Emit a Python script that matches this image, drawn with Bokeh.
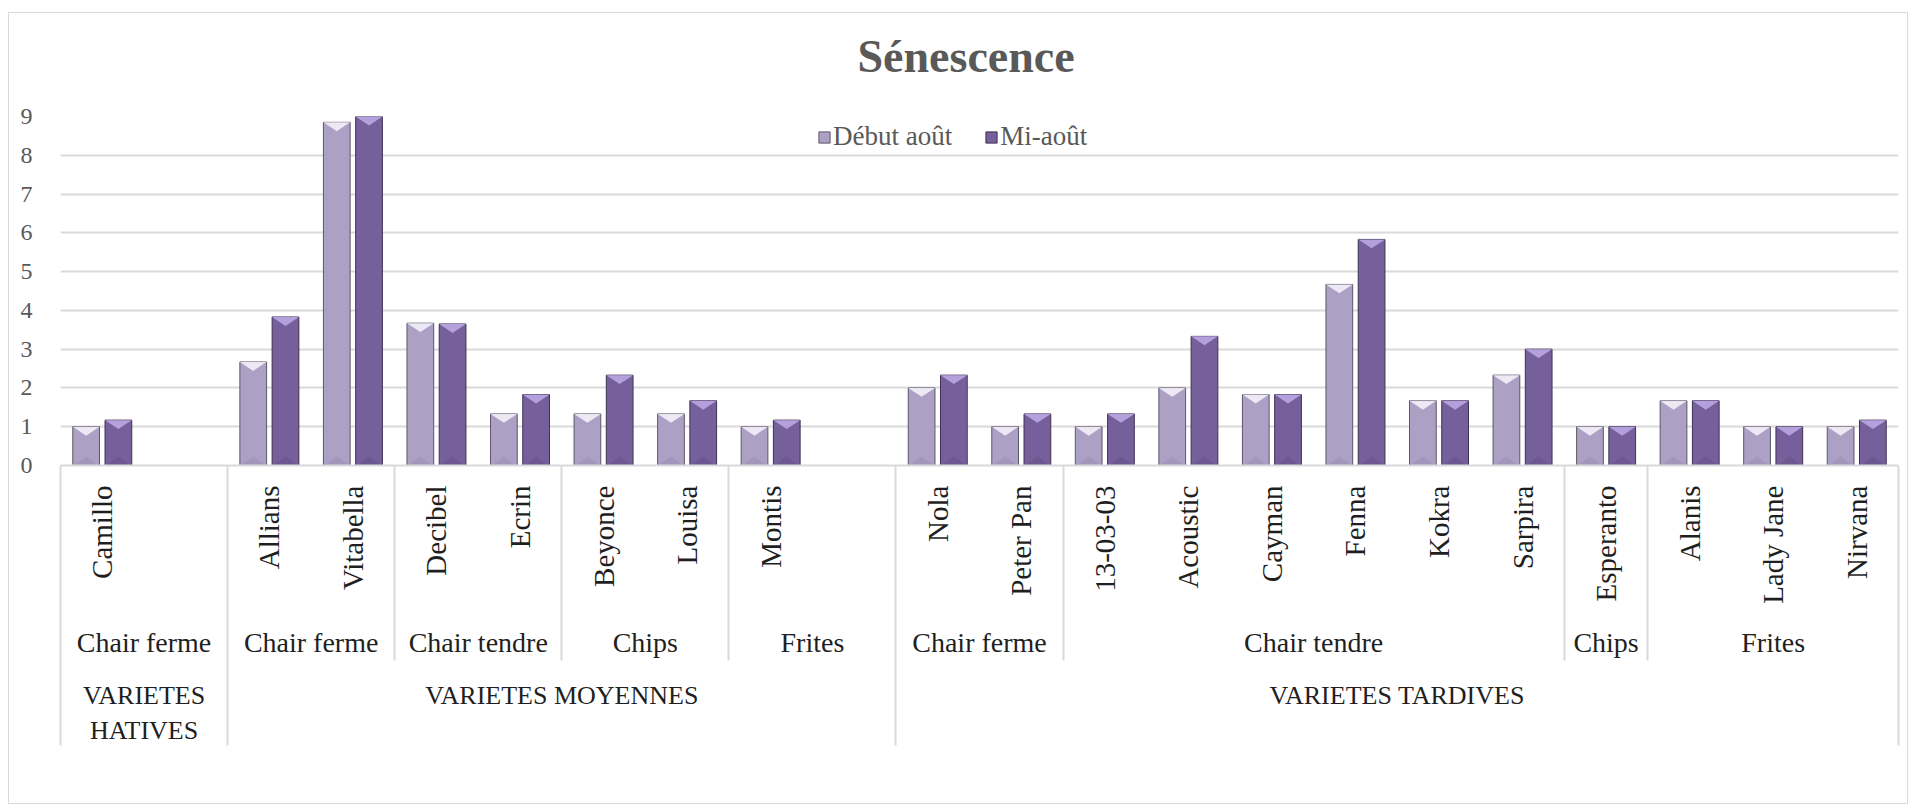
import math
from bokeh.plotting import figure
from bokeh.models import (FactorRange, FixedTicker, Legend, LegendItem,
                          ColumnDataSource, Title, CategoricalAxis,
                          LinearAxis)
from bokeh.transform import dodge
from bokeh.embed import file_html
from bokeh.resources import INLINE

# ---------------- data ----------------
maturity = (["VARIETES\nHATIVES"] * 2 + ["VARIETES MOYENNES"] * 8 +
            ["VARIETES TARDIVES"] * 12)
types = (["Chair ferme"] * 2 + ["Chair ferme"] * 2 + ["Chair tendre"] * 2 +
         ["Chips"] * 2 + ["Frites"] * 2 + ["Chair ferme"] * 2 +
         ["Chair tendre"] * 6 + ["Chips"] + ["Frites"] * 3)
varieties = ["Camillo", " ", "Allians", "Vitabella", "Decibel", "Ecrin",
             "Beyonce", "Louisa", "Montis", "  ", "Nola", "Peter Pan",
             "13-03-03", "Acoustic", "Cayman", "Fenna", "Kokra", "Sarpira",
             "Esperanto", "Alanis", "Lady Jane", "Nirvana"]
debut_aout = [1.0, None, 2.67, 8.85, 3.67, 1.33, 1.33, 1.33, 1.0, None, 2.0,
              1.0, 1.0, 2.0, 1.83, 4.67, 1.67, 2.33, 1.0, 1.67, 1.0, 1.0]
mi_aout = [1.17, None, 3.83, 9.0, 3.65, 1.83, 2.33, 1.67, 1.17, None, 2.33,
           1.33, 1.33, 3.33, 1.83, 5.83, 1.67, 3.0, 1.0, 1.67, 1.0, 1.17]
series_names = ["Début août", "Mi-août"]
y_ticks = list(range(0, 10))

# ---------------- style ----------------
SERIF = "Liberation Serif"
BAR_W = 0.32
OFFS = [-0.193, 0.193]
TRI_H = 0.23
body_col = ["#ADA0C5", "#76609C"]
edge_col = ["#5E566C", "#3E3252"]
top_col = ["#F3F0F8", "#BDA7E6"]
bot_col = ["#9D90B6", "#67528B"]
grid_col = "#D9D9D9"
W, H = 1900, 792

factors = list(zip(maturity, types, varieties))
n = len(factors)

p = figure(width=W, height=H, x_range=FactorRange(
    *factors, factor_padding=0, subgroup_padding=0, group_padding=0,
    range_padding=0), y_range=(0, 9), output_backend="svg",
    toolbar_location=None, x_axis_location=None,
    min_border_left=51, min_border_right=11,
    min_border_top=103, min_border_bottom=340,
    styles={"margin-left": "8px", "margin-top": "12px",
            "border": "1px solid #D9D9D9"})
p.outline_line_color = None
p.background_fill_color = "white"
p.border_fill_color = "white"

# spacer (closest to the frame), then the real title above it
p.add_layout(Title(text=" ", text_font_size="1px", standoff=32), "above")
p.add_layout(Title(text="Sénescence", align="left", offset=797,
                   text_font=SERIF, text_font_size="46px",
                   text_font_style="bold", text_color="#595959",
                   standoff=0), "above")

# y axis
p.yaxis.ticker = FixedTicker(ticks=y_ticks)
p.yaxis.axis_line_color = None
p.yaxis.major_tick_line_color = None
p.yaxis.minor_tick_line_color = None
p.yaxis.major_label_text_font = SERIF
p.yaxis.major_label_text_font_size = "24px"
p.yaxis.major_label_text_color = "#595959"
p.yaxis.major_label_standoff = 22
p.ygrid.grid_line_color = grid_col
p.ygrid.grid_line_width = 2
for g in p.xgrid:
    g.grid_line_color = None

# group separator positions from the category lists
type_bounds = [i for i in range(1, n) if factors[i][:2] != factors[i - 1][:2]]
mat_bounds = [0] + [i for i in range(1, n)
                    if maturity[i] != maturity[i - 1]] + [n]
sub_only = [b for b in type_bounds if b not in mat_bounds]


def sep_axis(ticks, length, line):
    return LinearAxis(ticker=FixedTicker(ticks=ticks),
                      major_tick_in=-length, major_tick_out=0,
                      major_tick_line_color=grid_col, major_tick_line_width=2,
                      minor_tick_line_color=None,
                      axis_line_color=grid_col if line else None,
                      axis_line_width=2,
                      major_label_text_font_size="0px",
                      major_label_text_alpha=0, major_label_standoff=0)


p.add_layout(sep_axis(sub_only, 195, True), "below")
p.add_layout(sep_axis(mat_bounds, 280, False), "below")

xa = CategoricalAxis(axis_line_color=None, major_tick_line_color=None,
                     major_tick_in=0, major_tick_out=0,
                     major_label_orientation=math.pi / 2,
                     major_label_standoff=20,
                     major_label_text_font=SERIF,
                     major_label_text_font_size="29px",
                     major_label_text_color="#1F1F1F",
                     subgroup_text_font=SERIF, subgroup_text_font_size="28px",
                     subgroup_text_color="#1F1F1F",
                     subgroup_text_font_style="normal",
                     group_text_font=SERIF, group_text_font_size="26px",
                     group_text_color="#1F1F1F",
                     group_text_font_style="normal",
                     separator_line_color=None)
p.add_layout(xa, "below")

# bars
renderers = []
for k, vals in enumerate([debut_aout, mi_aout]):
    xs_f, tops, xs_n = [], [], []
    for i, v in enumerate(vals):
        if v is None:
            continue
        xs_f.append(factors[i])
        tops.append(v)
        xs_n.append(i + 0.5 + OFFS[k])
    src = ColumnDataSource(dict(x=xs_f, top=tops))
    r = p.vbar(x=dodge("x", OFFS[k], range=p.x_range), top="top",
               width=BAR_W, source=src, fill_color=body_col[k],
               line_color=edge_col[k], line_width=1)
    renderers.append(r)
    tx = [[c - BAR_W / 2, c + BAR_W / 2, c] for c in xs_n]
    ty = [[h, h, h - TRI_H] for h in tops]
    p.patches(tx, ty, fill_color=top_col[k], line_color=None,
              fill_alpha=0.9)
    bx = [[c - BAR_W / 2 + 0.01, c + BAR_W / 2 - 0.01, c] for c in xs_n]
    by = [[0, 0, TRI_H] for h in tops]
    p.patches(bx, by, fill_color=bot_col[k], line_color=None,
              fill_alpha=0.6)

legend = Legend(items=[LegendItem(label=series_names[k], renderers=[renderers[k]])
                       for k in range(2)],
                orientation="horizontal", location=(757, 313),
                glyph_width=14, glyph_height=14, spacing=32, padding=6,
                margin=0, label_standoff=2, label_text_font=SERIF,
                label_text_font_size="27px", label_text_color="#595959",
                background_fill_alpha=0, border_line_color=None)
p.add_layout(legend)

open("out.html", "w").write(file_html(p, INLINE))
